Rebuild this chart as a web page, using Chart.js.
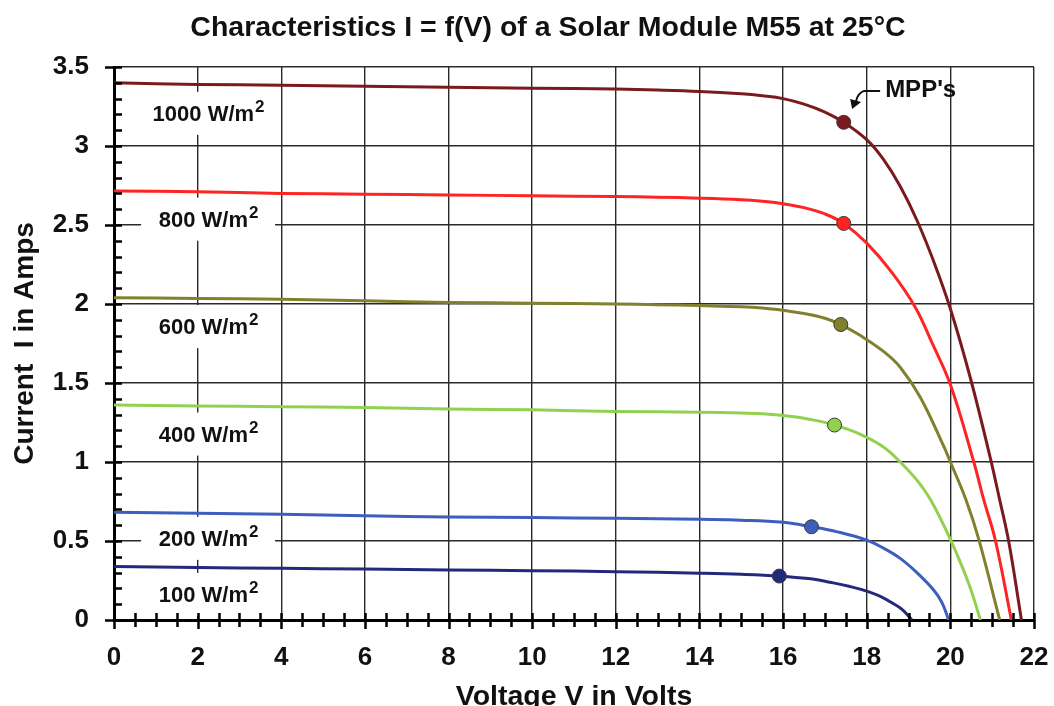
<!DOCTYPE html>
<html>
<head>
<meta charset="utf-8">
<script src="https://cdn.jsdelivr.net/npm/chart.js@4.4.1/dist/chart.umd.min.js"></script>
<style>
  html, body { margin: 0; padding: 0; background: #fff; }
  #wrap { width: 1054px; height: 706px; }
</style>
</head>
<body>
<div id="wrap"><canvas id="iv" width="1054" height="706"></canvas></div>
<script>
// Irradiance levels of the module, one I-V curve each
const irradiance = [1000, 800, 600, 400, 200, 100];

// Voltage (V) / current (A) samples per curve
const volt1000 = [0, 2, 4, 6, 8, 10, 12, 13, 14, 15, 15.5, 16, 16.5, 17, 17.45, 18, 18.4, 18.8, 19.2, 19.6, 20, 20.48, 20.96, 21.18, 21.4, 21.7];
const amps1000 = [3.40, 3.39, 3.385, 3.378, 3.372, 3.366, 3.36, 3.354, 3.345, 3.33, 3.318, 3.30, 3.265, 3.215, 3.15, 3.04, 2.915, 2.745, 2.53, 2.27, 1.97, 1.53, 1.02, 0.76, 0.49, 0];

const volt800 = [0, 2, 4, 6, 8, 10, 12, 13, 14, 15, 15.5, 16, 16.5, 17, 17.45, 18, 18.6, 19.16, 19.56, 20, 20.56, 20.8, 21.08, 21.46];
const amps800 = [2.715, 2.71, 2.70, 2.695, 2.69, 2.685, 2.68, 2.676, 2.67, 2.66, 2.65, 2.635, 2.61, 2.57, 2.51, 2.385, 2.20, 1.98, 1.755, 1.49, 1.0, 0.76, 0.50, 0];

const volt600 = [0, 2, 4, 6, 8, 10, 12, 13, 14, 15, 15.5, 16, 16.5, 17, 17.38, 17.85, 18.4, 18.8, 19.28, 19.84, 20, 20.36, 20.68, 21.18];
const amps600 = [2.04, 2.035, 2.03, 2.02, 2.01, 2.005, 2.0, 1.996, 1.99, 1.983, 1.975, 1.96, 1.94, 1.91, 1.87, 1.80, 1.70, 1.60, 1.41, 1.10, 1.0, 0.77, 0.51, 0];

const volt400 = [0, 2, 4, 6, 8, 10, 12, 14, 15, 15.5, 16, 16.4, 16.8, 17.23, 17.85, 18.4, 18.8, 19.2, 19.55, 20, 20.44, 20.72];
const amps400 = [1.36, 1.355, 1.35, 1.345, 1.335, 1.33, 1.32, 1.315, 1.31, 1.305, 1.295, 1.282, 1.262, 1.234, 1.175, 1.095, 1.0, 0.885, 0.75, 0.51, 0.23, 0];

const volt200 = [0, 2, 4, 6, 8, 10, 12, 14, 15, 16, 16.68, 17.3, 18, 18.4, 18.8, 19.2, 19.6, 19.8, 19.96];
const amps200 = [0.682, 0.675, 0.669, 0.66, 0.652, 0.648, 0.644, 0.637, 0.632, 0.618, 0.59, 0.558, 0.506, 0.455, 0.39, 0.30, 0.19, 0.11, 0];

const volt100 = [0, 2, 4, 6, 8, 10, 12, 14, 15, 15.91, 16.6, 17.2, 17.6, 18, 18.3, 18.56, 18.85, 19.08];
const amps100 = [0.338, 0.332, 0.327, 0.322, 0.317, 0.312, 0.306, 0.296, 0.289, 0.278, 0.262, 0.235, 0.212, 0.183, 0.152, 0.115, 0.066, 0];

// Maximum power points, same order as irradiance
const mppVolt = [17.45, 17.45, 17.38, 17.23, 16.68, 15.91];
const mppAmps = [3.15, 2.51, 1.87, 1.234, 0.59, 0.278];

// Axis ticks
const xTicks = [0, 2, 4, 6, 8, 10, 12, 14, 16, 18, 20, 22];
const yTicks = [0, 0.5, 1, 1.5, 2, 2.5, 3, 3.5];

const curveVolts = [volt1000, volt800, volt600, volt400, volt200, volt100];
const curveAmps = [amps1000, amps800, amps600, amps400, amps200, amps100];
const colors = ['#7A1A1E', '#FF2424', '#80802E', '#92D050', '#3D5EBE', '#232A7B'];

// Where each irradiance caption sits (volts, amps)
const captionAt = [[2.25, 3.21], [2.25, 2.54], [2.25, 1.86], [2.25, 1.18], [2.25, 0.52], [2.25, 0.165]];

const TITLE = 'Characteristics I = f(V) of a Solar Module M55 at 25°C';
const FONT = "'Liberation Sans', Arial, sans-serif";

const zip = (xs, ys) => xs.map((x, i) => ({ x: x, y: ys[i] }));

const datasets = [];
irradiance.forEach((irr, i) => {
  datasets.push({
    label: irr + ' W/m²',
    data: zip(curveVolts[i], curveAmps[i]),
    showLine: true,
    borderColor: colors[i],
    backgroundColor: colors[i],
    borderWidth: 3,
    pointRadius: 0,
    tension: 0.4,
    order: 2
  });
});
datasets.push({
  label: "MPP's",
  data: zip(mppVolt, mppAmps),
  showLine: false,
  pointRadius: 7,
  pointHoverRadius: 7,
  pointBackgroundColor: colors,
  pointBorderColor: '#3a3a3a',
  pointBorderWidth: 1,
  order: 0
});

// Chart heading, set slightly right of the canvas centre
const headingPlugin = {
  id: 'heading',
  afterDraw(chart) {
    const { ctx } = chart;
    ctx.save();
    ctx.fillStyle = '#111';
    ctx.font = 'bold 28.5px ' + FONT;
    ctx.textAlign = 'center';
    ctx.textBaseline = 'middle';
    ctx.fillText(TITLE, 548, 28);
    ctx.restore();
  }
};

// Irradiance captions on white boxes that interrupt the grid
const captionPlugin = {
  id: 'captions',
  beforeDatasetsDraw(chart) {
    const { ctx, scales: { x, y } } = chart;
    ctx.save();
    irradiance.forEach((irr, i) => {
      const cx = x.getPixelForValue(captionAt[i][0]);
      const cy = y.getPixelForValue(captionAt[i][1]);
      ctx.fillStyle = '#fff';
      ctx.fillRect(cx - 67, cy - 21, 134, 43);
      const main = irr + ' W/m';
      ctx.font = 'bold 22px ' + FONT;
      const w1 = ctx.measureText(main).width;
      ctx.font = 'bold 17px ' + FONT;
      const w2 = ctx.measureText('2').width;
      const left = cx - (w1 + w2) / 2;
      ctx.fillStyle = '#111';
      ctx.textBaseline = 'alphabetic';
      ctx.textAlign = 'left';
      ctx.font = 'bold 22px ' + FONT;
      ctx.fillText(main, left, cy + 8);
      ctx.font = 'bold 17px ' + FONT;
      ctx.fillText('2', left + w1 + 1, cy - 1);
    });
    ctx.restore();
  }
};

// Major and minor tick marks on both axes, plus the MPP callout
const axisPlugin = {
  id: 'axisMarks',
  afterDatasetsDraw(chart) {
    const { ctx, scales: { x, y } } = chart;
    ctx.save();
    ctx.strokeStyle = '#000';
    ctx.lineWidth = 2.5;
    const x0 = x.left, y0 = y.bottom;
    ctx.beginPath();
    for (let v = 0; v <= 3.5001; v += 0.1) {
      const py = Math.round(y.getPixelForValue(v)) + 0.5;
      const major = Math.abs(v * 2 - Math.round(v * 2)) < 1e-6;
      ctx.moveTo(major ? x0 - 9 : x0, py);
      ctx.lineTo(x0 + 8, py);
    }
    for (let v = 0; v <= 22.001; v += 0.5) {
      const px = Math.round(x.getPixelForValue(v)) + 0.5;
      const major = Math.abs(v / 2 - Math.round(v / 2)) < 1e-6;
      ctx.moveTo(px, y0 - 7);
      ctx.lineTo(px, major ? y0 + 9 : y0 + 7);
    }
    ctx.stroke();

    // MPP's callout
    const tx = x.getPixelForValue(18.44);
    const ty = y.getPixelForValue(3.355);
    ctx.fillStyle = '#111';
    ctx.font = 'bold 24px ' + FONT;
    ctx.textAlign = 'left';
    ctx.textBaseline = 'middle';
    ctx.fillText("MPP's", tx, ty);
    ctx.strokeStyle = '#111';
    ctx.lineWidth = 2;
    ctx.beginPath();
    ctx.moveTo(tx - 5, ty + 1);
    ctx.lineTo(tx - 21, ty + 1);
    ctx.quadraticCurveTo(tx - 27, ty + 3, tx - 29, ty + 11);
    ctx.stroke();
    ctx.beginPath();
    ctx.moveTo(tx - 33, ty + 19);
    ctx.lineTo(tx - 35, ty + 9);
    ctx.lineTo(tx - 24, ty + 12);
    ctx.closePath();
    ctx.fill();
    ctx.restore();
  }
};

new Chart(document.getElementById('iv'), {
  type: 'scatter',
  data: { datasets: datasets },
  plugins: [headingPlugin, captionPlugin, axisPlugin],
  options: {
    responsive: false,
    animation: false,
    devicePixelRatio: 1,
    layout: { padding: { left: 0, right: 20, top: 67, bottom: 0 } },
    plugins: {
      legend: { display: false },
      tooltip: { enabled: false },
      title: { display: false }
    },
    scales: {
      x: {
        type: 'linear',
        min: 0, max: 22,
        afterBuildTicks(s) { s.ticks = xTicks.map(v => ({ value: v })); },
        afterFit(s) { s.height = 86; },
        ticks: {
          color: '#111',
          padding: 2,
          font: { family: FONT, size: 26, weight: 'bold' }
        },
        grid: { color: '#2a2a2a', lineWidth: 1.4, drawTicks: true, tickLength: 20, tickColor: 'rgba(0,0,0,0)' },
        border: { display: true, color: '#000', width: 3 },
        title: {
          display: true,
          text: 'Voltage V in Volts',
          color: '#111',
          font: { family: FONT, size: 28.5, weight: 'bold' },
          padding: { top: 0, bottom: -8 }
        }
      },
      y: {
        type: 'linear',
        min: 0, max: 3.5,
        afterBuildTicks(s) { s.ticks = yTicks.map(v => ({ value: v })); },
        afterFit(s) { s.width = 114; },
        ticks: {
          color: '#111',
          padding: 25,
          font: { family: FONT, size: 26, weight: 'bold' },
          callback: v => String(v)
        },
        grid: { color: '#2a2a2a', lineWidth: 1.4, drawTicks: false },
        border: { display: true, color: '#000', width: 3 },
        title: {
          display: true,
          text: 'Current  I in Amps',
          color: '#111',
          font: { family: FONT, size: 28, weight: 'bold' },
          padding: { top: 8, bottom: 0 }
        }
      }
    }
  }
});
</script>
</body>
</html>
